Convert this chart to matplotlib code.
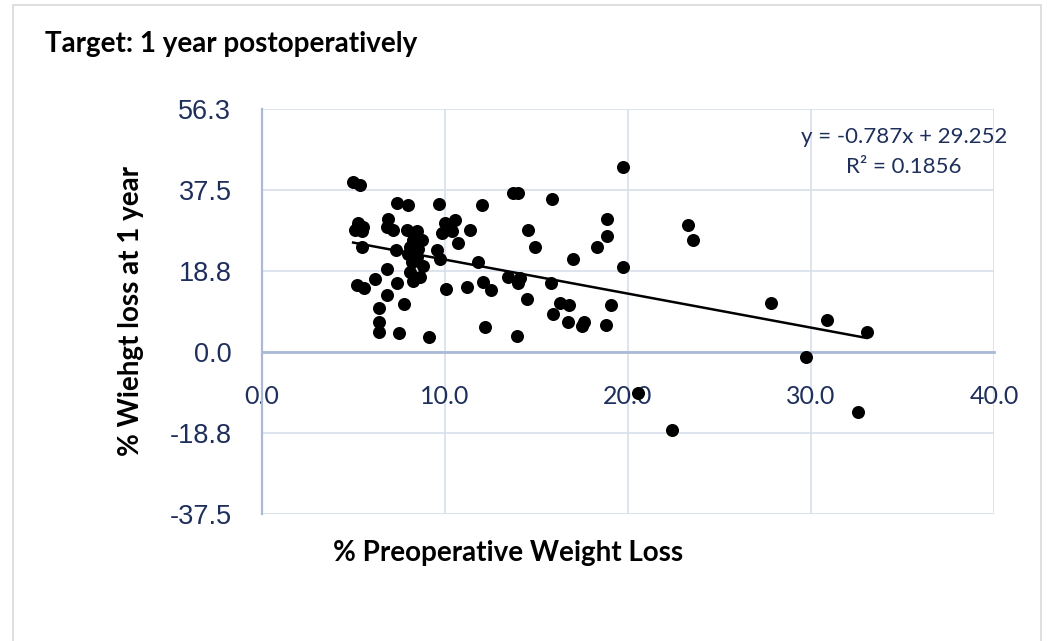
import matplotlib
matplotlib.use("Agg")
import matplotlib.pyplot as plt
from matplotlib.patches import Rectangle

# % preoperative weight loss vs % weight loss at 1 year
x_preop = [4.98, 5.36, 7.36, 8.0, 9.69, 12.0, 13.73, 14.0, 5.26, 5.53,
           5.08, 5.45, 6.9, 6.81, 7.18, 7.9, 8.48, 8.27, 8.73, 8.09,
           8.54, 8.0, 8.45, 7.32, 8.18, 8.8, 8.09, 8.63, 8.27, 6.81,
           6.2, 5.2, 5.6, 7.36, 5.45, 9.54, 9.73, 10.0, 10.55, 9.82,
           10.36, 10.73, 11.37, 11.78, 10.08, 11.22, 12.05, 12.5, 6.42, 6.42,
           6.41, 7.5, 9.15, 7.78, 6.85, 12.2, 13.92, 13.45, 14.1, 14.0,
           14.47, 14.55, 14.92, 15.83, 19.75, 18.83, 18.87, 18.29, 17.0, 19.75,
           15.78, 16.3, 16.8, 15.92, 16.7, 17.6, 17.5, 18.8, 19.07, 23.3,
           23.53, 27.81, 30.85, 33.04, 29.71, 32.58, 22.42, 20.57, 10.1]
y_1yr = [39.4, 38.7, 34.6, 34.0, 34.3, 34.0, 36.9, 36.7, 29.8, 29.0,
         28.2, 27.9, 30.9, 29.0, 28.2, 28.2, 27.9, 25.9, 25.9, 24.4,
         23.8, 22.7, 22.1, 23.6, 20.9, 19.9, 18.6, 17.3, 16.5, 19.2,
         16.9, 15.5, 14.7, 15.9, 24.4, 23.6, 21.5, 29.8, 30.6, 27.5,
         27.9, 25.2, 28.2, 20.9, 14.5, 15.0, 16.2, 14.4, 10.1, 7.0,
         4.7, 4.3, 3.4, 11.0, 13.2, 5.8, 3.8, 17.4, 17.2, 15.9,
         12.3, 28.2, 24.4, 35.4, 42.8, 30.8, 26.9, 24.4, 21.5, 19.6,
         16.0, 11.3, 10.9, 8.8, 7.0, 7.0, 6.1, 6.25, 10.9, 29.5,
         25.9, 11.3, 7.4, 4.7, -1.24, -13.8, -18.1, -9.5, 29.0]

x_ticks = [0, 10, 20, 30, 40]
x_tick_labels = ["0.0", "10.0", "20.0", "30.0", "40.0"]
y_ticks = [-37.5, -18.75, 0, 18.75, 37.5, 56.25]
y_tick_labels = ["-37.5", "-18.8", "0.0", "18.8", "37.5", "56.3"]

slope = -0.787
intercept = 29.252
r_squared = 0.1856

navy = "#1f2f5c"
lato = ["Lato", "DejaVu Sans"]
W, H = 1047, 641
fig = plt.figure(figsize=(W / 100, H / 100), dpi=100)
fig.patches.append(Rectangle((13 / W, -0.01), (1041 - 13) / W, 1.01 - 5 / H,
                             transform=fig.transFigure, fill=False,
                             edgecolor="#d9d9d9", linewidth=1.2))

ax = fig.add_axes([262 / W, 1 - 514 / H, (994 - 262) / W, (514 - 109) / H])
ax.set_axisbelow(True)

# spine position first: set_position resets the ticks
for side in ["top", "right"]:
    ax.spines[side].set_visible(False)
ax.spines["bottom"].set_position(("data", 0))
ax.spines["bottom"].set_color("#a9bad6")
ax.spines["bottom"].set_linewidth(2)
ax.spines["left"].set_color("#a9bad6")
ax.spines["left"].set_linewidth(1.6)

ax.scatter(x_preop, y_1yr, s=88, color="black", zorder=3, linewidths=0)

x_line = [min(x_preop), max(x_preop)]
ax.plot(x_line, [slope * v + intercept for v in x_line], color="black", lw=1.8, zorder=2)

ax.set_xlim(0, 40)
ax.set_ylim(-37.5, 56.25)
ax.set_xticks(x_ticks)
ax.set_xticklabels(x_tick_labels, family=lato, fontsize=18, color=navy)
ax.set_yticks(y_ticks)
ax.set_yticklabels(y_tick_labels, family=["Liberation Sans", "DejaVu Sans"], fontsize=19.5, color=navy)
ax.tick_params(axis="x", length=0, pad=24)
ax.tick_params(axis="y", length=0, pad=22)
ax.grid(True, color="#d8dfeb", lw=1.2)

ax.text(904 / W, 1 - 137 / H, "y = -0.787x + 29.252", transform=fig.transFigure,
        ha="center", va="center", fontsize=16, color=navy, family=lato)
ax.text(904 / W, 1 - 167 / H, f"R² = {r_squared}", transform=fig.transFigure,
        ha="center", va="center", fontsize=16, color=navy, family=lato)

fig.text(45 / W, 1 - 44 / H, "Target: 1 year postoperatively", ha="left", va="center",
         fontsize=20, fontweight="bold", family=lato)
fig.text(131 / W, 1 - 311 / H, "% Wiehgt loss at 1 year", rotation=90, ha="center", va="center",
         fontsize=20, fontweight="bold", family=lato)
fig.text(508 / W, 1 - 553 / H, "% Preoperative Weight Loss", ha="center", va="center",
         fontsize=20, fontweight="bold", family=lato)

fig.savefig("out.png", dpi=100)
